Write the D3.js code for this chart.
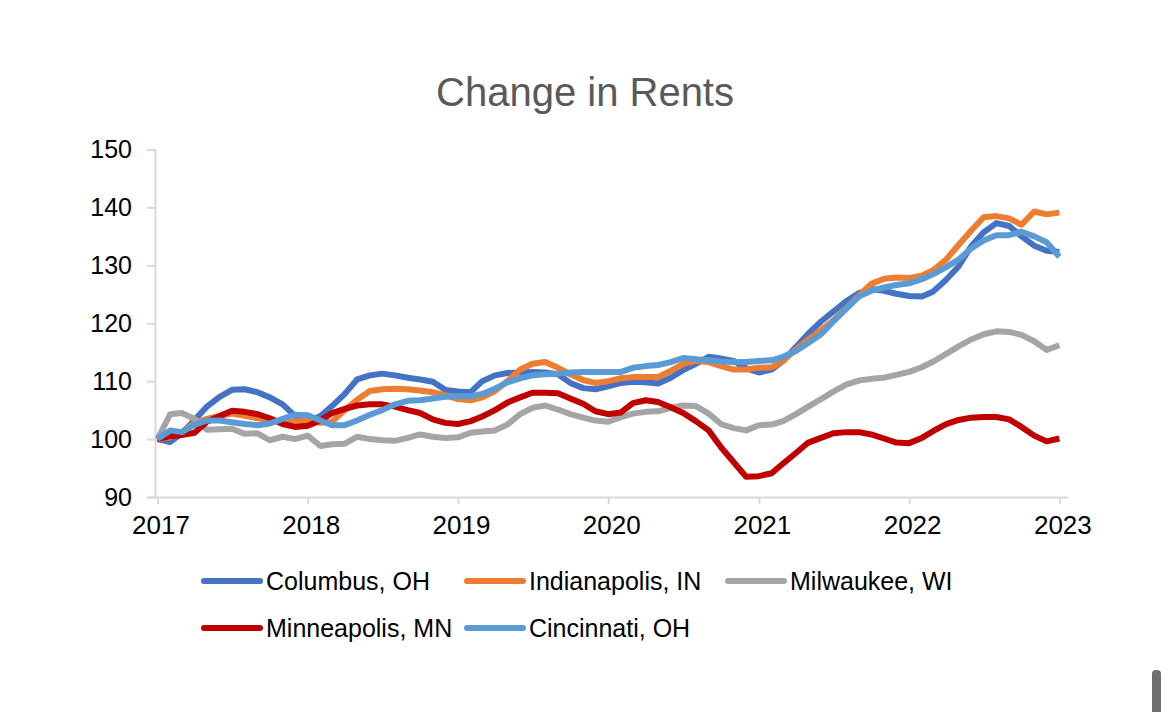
<!DOCTYPE html>
<html><head><meta charset="utf-8">
<script src="https://cdn.jsdelivr.net/npm/d3@7"></script>
<style>
body{margin:0;background:#fff;}
svg{display:block;font-family:"Liberation Sans",Arial,Helvetica,sans-serif;}
</style>
</head><body>
<svg id="c" width="1170" height="712"></svg>
<script>
// ---- data ----
const title = "Change in Rents";
const seriesNames = ["Columbus, OH", "Indianapolis, IN", "Milwaukee, WI", "Minneapolis, MN", "Cincinnati, OH"];
const seriesColors = ["#4472C4", "#ED7D31", "#A5A5A5", "#C00000", "#5B9BD5"];
const yTicks = [90, 100, 110, 120, 130, 140, 150];
const xTickYears = [2017, 2018, 2019, 2020, 2021, 2022, 2023];
// monthly, Jan 2017 .. Jan 2023
const months = d3.timeMonth.range(new Date(2017, 0, 1), new Date(2023, 1, 1));

const columbus = [100, 99.5, 101, 103.3, 105.6, 107.3, 108.5, 108.6, 108.1, 107.2, 106, 104,
  103, 104, 105.7, 107.8, 110.3, 111, 111.3, 111, 110.6, 110.3, 109.9, 108.5,
  108.2, 108.1, 110, 111, 111.4, 111.5, 111.6, 111.5, 111.2, 109.7, 108.8, 108.6,
  109.1, 109.7, 109.9, 109.8, 109.6, 110.6, 111.9, 113, 114.2, 113.9, 113.5, 112.2,
  111.5, 112, 113.5, 115.9, 118.2, 120.3, 122, 123.8, 125.2, 125.9, 125.6, 125.1,
  124.7, 124.6, 125.5, 127.5, 129.8, 133.3, 135.7, 137.3, 136.8, 135, 133.4, 132.5,
  132.3];
const indianapolis = [100, 100.3, 101.2, 102.8, 103.5, 104, 104.4, 104, 103.6, 103.3, 103, 103,
  103.2, 102.8, 103, 105, 106.8, 108.3, 108.6, 108.7, 108.6, 108.4, 108.1, 107.6,
  106.9, 106.7, 107.2, 108.3, 110, 112, 113, 113.3, 112.3, 111.2, 110.2, 109.7,
  110, 110.5, 110.7, 110.7, 110.7, 111.8, 113, 113.5, 113.3, 112.6, 112, 112,
  112.3, 112.4, 113.5, 115.5, 117.2, 118.8, 120.5, 122.6, 124.8, 126.8, 127.7, 127.9,
  127.8, 128.2, 129.2, 131, 133.5, 136, 138.3, 138.5, 138.1, 137, 139.3, 138.8,
  139.1];
const milwaukee = [100, 104.3, 104.5, 103.5, 101.6, 101.7, 101.8, 100.9, 101, 99.8, 100.4, 100,
  100.6, 98.8, 99.1, 99.2, 100.4, 100, 99.8, 99.7, 100.2, 100.8, 100.4, 100.2,
  100.3, 101.1, 101.3, 101.5, 102.5, 104.3, 105.4, 105.8, 105.1, 104.3, 103.7, 103.2,
  103, 103.8, 104.4, 104.7, 104.8, 105.4, 105.8, 105.7, 104.4, 102.6, 101.9, 101.5,
  102.4, 102.5, 103.1, 104.3, 105.6, 106.9, 108.2, 109.4, 110.1, 110.4, 110.6, 111.1,
  111.6, 112.4, 113.4, 114.7, 116, 117.2, 118.1, 118.6, 118.5, 118, 116.9, 115.4,
  116.2];
const minneapolis = [100, 100.5, 100.7, 101.1, 103, 104, 104.9, 104.7, 104.3, 103.6, 102.6, 102.1,
  102.3, 103.2, 104.5, 105.2, 105.8, 106, 106, 105.6, 105, 104.5, 103.4, 102.8,
  102.6, 103.1, 103.9, 105, 106.3, 107.2, 108, 108, 107.9, 107, 106.1, 104.8,
  104.3, 104.6, 106.2, 106.7, 106.4, 105.5, 104.5, 103.1, 101.5, 98.6, 96, 93.5,
  93.6, 94.1, 95.8, 97.6, 99.4, 100.2, 101, 101.2, 101.2, 100.8, 100.1, 99.4,
  99.3, 100.2, 101.4, 102.6, 103.3, 103.7, 103.8, 103.8, 103.4, 102.1, 100.6, 99.6,
  100.1];
const cincinnati = [100, 101.5, 101.2, 102.5, 103.2, 103.2, 102.9, 102.6, 102.4, 102.7, 103.5, 104.2,
  104.1, 103.2, 102.4, 102.4, 103.2, 104.2, 105, 106, 106.6, 106.7, 107, 107.3,
  107.4, 107.4, 107.8, 108.7, 109.8, 110.5, 111, 111.2, 111.3, 111.5, 111.6, 111.6,
  111.6, 111.6, 112.3, 112.6, 112.8, 113.3, 114, 113.8, 113.6, 113.4, 113.3, 113.3,
  113.5, 113.6, 114.2, 115.2, 116.6, 118.1, 120.3, 122.5, 124.6, 125.6, 126.2, 126.6,
  126.9, 127.6, 128.5, 129.7, 131, 132.9, 134.3, 135.2, 135.2, 135.8, 135, 134,
  131.5];
const seriesValues = [columbus, indianapolis, milwaukee, minneapolis, cincinnati];

// ---- chart ----
const svg = d3.select("#c");
svg.append("rect").attr("width", 1170).attr("height", 712).attr("fill", "#fff");

const x = d3.scaleTime()
  .domain([new Date(2016, 11, 26), new Date(2023, 0, 22)])
  .range([155, 1068]);
const y = d3.scaleLinear().domain([90, 150]).range([497, 149.5]);

svg.append("text")
  .attr("x", 585).attr("y", 106)
  .attr("text-anchor", "middle")
  .attr("font-size", 40)
  .attr("fill", "#595959")
  .text(title);

// y axis
const yAxis = d3.axisLeft(y).tickValues(yTicks).tickSize(8).tickPadding(15).tickFormat(d3.format("d"));
const gy = svg.append("g").attr("transform", "translate(155,0)").call(yAxis);
gy.select(".domain").attr("stroke", "#d9d9d9").attr("stroke-width", 2);
gy.selectAll(".tick line").attr("stroke", "#d9d9d9").attr("stroke-width", 2);
gy.selectAll(".tick text").attr("font-size", 25).attr("fill", "#000")
  .attr("font-family", "'Liberation Sans',Arial,sans-serif");

// x axis
const xAxis = d3.axisBottom(x)
  .tickValues(xTickYears.map(yr => new Date(yr, 0, 1)))
  .tickFormat(d3.timeFormat("%Y"))
  .tickSize(7).tickSizeOuter(0).tickPadding(12);
const gx = svg.append("g").attr("transform", "translate(0,497)").call(xAxis);
gx.select(".domain").attr("stroke", "#d9d9d9").attr("stroke-width", 2);
gx.selectAll(".tick line").attr("stroke", "#d9d9d9").attr("stroke-width", 2);
gx.selectAll(".tick text").attr("font-size", 26).attr("fill", "#000").attr("dx", 3)
  .attr("font-family", "'Liberation Sans',Arial,sans-serif");

// lines
const line = d3.line().x((d, i) => x(months[i])).y(d => y(d));
seriesValues.forEach((vals, k) => {
  svg.append("path")
    .datum(vals)
    .attr("d", line)
    .attr("fill", "none")
    .attr("stroke", seriesColors[k])
    .attr("stroke-width", 6)
    .attr("stroke-linejoin", "round")
    .attr("stroke-linecap", "butt");
});

// legend
const legendPos = [[204, 581], [467, 581], [728, 581], [204, 628], [467, 628]];
seriesNames.forEach((name, k) => {
  const [lx, ly] = legendPos[k];
  svg.append("line")
    .attr("x1", lx).attr("x2", lx + 56).attr("y1", ly).attr("y2", ly)
    .attr("stroke", seriesColors[k]).attr("stroke-width", 6).attr("stroke-linecap", "round");
  svg.append("text")
    .attr("x", lx + 62).attr("y", ly + 9)
    .attr("font-size", 25)
    .attr("fill", "#000")
    .text(name);
});

// scrollbar artifact at bottom right
svg.append("rect").attr("x", 1152).attr("y", 670).attr("width", 9).attr("height", 50)
  .attr("rx", 4).attr("fill", "#6f6f6f");
</script>
</body></html>
